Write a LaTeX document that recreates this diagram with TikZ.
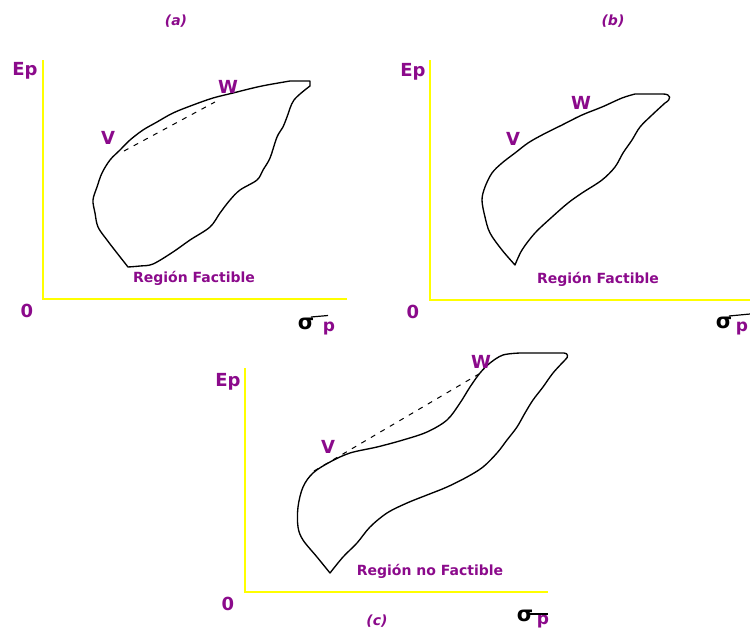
\documentclass[tikz,border=0pt]{standalone}
\usepackage{fontspec}
\setmainfont{DejaVu Sans}
\definecolor{vio}{RGB}{139,10,139}
\definecolor{axisyellow}{RGB}{255,255,0}
\tikzset{
  axisline/.style={draw=axisyellow, line width=2.4pt},
  frontier/.style={draw=black, line width=1.35pt, line join=round, line cap=round},
  chord/.style={draw=black, line width=1pt, dash pattern=on 5pt off 6pt},
  lab/.style={text=vio, inner sep=0pt},
  big/.style={lab, font=\bfseries\fontsize{18}{18}\selectfont},
  small/.style={lab, font=\bfseries\fontsize{14}{15}\selectfont},
  ttl/.style={lab, font=\bfseries\itshape\fontsize{14}{14}\selectfont},
  sig/.style={text=black, inner sep=0pt, font=\bfseries\fontsize{21}{21}\selectfont},
  pp/.style={lab, font=\bfseries\fontsize{17}{17}\selectfont},
  sigbar/.style={draw=black, line width=1.2pt}
}
\begin{document}
\begin{tikzpicture}[x=1pt,y=-1pt]
\useasboundingbox (0,0) rectangle (750,630);

%%%%%%%%%%%%%%%% panel (a)
\node[ttl] (ta) at (176,21) {(a)};
\coordinate (a-top) at (43,60);
\coordinate (a-o) at (43,299);
\coordinate (a-right) at (347,299);
\draw[axisline] (a-top) -- (a-o) -- (a-right);
\node[big] (a-ep) at (25,71) {Ep};
\node[big] (a-zero) at (27,311) {0};
\node[sig] (a-sig) at (306,324) {σ};
\node[pp] (a-p) at (329,329) {p};
\coordinate (a-b1) at (311,317);
\coordinate (a-b2) at (328,315.5);
\draw[sigbar] (a-b1) -- (a-b2);
\draw[frontier] plot[smooth, tension=0.55] coordinates {(290,81) (267,85) (253,88) (233,93) (213,98) (193,105) (173,113) (157,122) (143,130) (130,140) (120,150) (110,160) (102,173) (97,187) (93,200) (95,213) (98,227) (107,240) (117,253) (128,267)}
  -- plot[smooth, tension=0.55] coordinates {(128,267) (140,266) (153,264) (173,252) (190,240) (210,227) (220,213) (230,200) (240,190) (257,180) (263,170) (270,158) (277,137) (283,127) (287,117) (294,100) (310,86)}
  -- (310,81) -- (290,81);
\coordinate (a-v) at (124,151);
\coordinate (a-w) at (215,102);
\draw[chord] (a-v) -- (a-w);
\node[big] (a-vl) at (108,138) {V};
\node[big] (a-wl) at (228,87) {W};
\node[small] (a-reg) at (194,278) {Región Factible};

%%%%%%%%%%%%%%%% panel (b)
\node[ttl] (tb) at (613,21) {(b)};
\coordinate (b-top) at (430,60);
\coordinate (b-o) at (430,300);
\coordinate (b-right) at (752,300);
\draw[axisline] (b-top) -- (b-o) -- (b-right);
\node[big] (b-ep) at (413,72) {Ep};
\node[big] (b-zero) at (413,312) {0};
\node[sig] (b-sig) at (724,323) {σ};
\node[pp] (b-p) at (742,329) {p};
\coordinate (b-b1) at (729,316);
\coordinate (b-b2) at (750,314);
\draw[sigbar] (b-b1) -- (b-b2);
\draw[frontier] plot[smooth, tension=0.55] coordinates {(635,94) (622,98) (602,107) (582,115) (562,125) (542,135) (528,143) (515,153) (502,163) (492,173) (485,187) (482,200) (485,217) (490,233) (502,250) (515,265)}
  -- plot[smooth, tension=0.55] coordinates {(515,265) (522,250) (535,233) (552,217) (568,203) (582,193) (602,180) (615,167) (623,153) (632,140) (640,127) (652,115) (665,103)}
  .. controls (672,99) and (671,94) .. (663,94) -- (635,94);
\node[big] (b-vl) at (513,139) {V};
\node[big] (b-wl) at (581,103) {W};
\node[small] (b-reg) at (598,279) {Región Factible};

%%%%%%%%%%%%%%%% panel (c)
\coordinate (c-top) at (245,368);
\coordinate (c-o) at (245,592);
\coordinate (c-right) at (548,592);
\draw[axisline] (c-top) -- (c-o) -- (c-right);
\node[big] (c-ep) at (228,382) {Ep};
\node[big] (c-zero) at (228,604) {0};
\node[sig] (c-sig) at (525,616) {σ};
\node[pp] (c-p) at (543,621) {p};
\coordinate (c-b1) at (530,614);
\coordinate (c-b2) at (548,614);
\draw[sigbar] (c-b1) -- (c-b2);
\node[ttl] (tc) at (377,621) {(c)};
\draw[frontier] plot[smooth, tension=0.55] coordinates {(520,353) (503,355) (490,363) (480,373) (470,387) (460,403) (447,420) (427,432) (403,440) (377,447) (350,453) (330,462) (313,473) (303,487) (298,507) (298,527) (303,540) (317,557) (330,573)}
  -- plot[smooth, tension=0.55] coordinates {(330,573) (343,557) (357,543) (370,527) (387,513) (407,503) (427,495) (447,487) (467,477) (483,467) (497,453) (507,440) (517,427) (525,413) (533,400) (543,387) (553,373) (565,360)}
  .. controls (569,357) and (568,353) .. (564,353) -- (520,353);
\coordinate (c-v) at (314,471);
\coordinate (c-w) at (484,371);
\draw[chord] (c-v) -- (c-w);
\node[big] (c-vl) at (328,447) {V};
\node[big] (c-wl) at (481,362) {W};
\node[small] (c-reg) at (430,571) {Región no Factible};
\end{tikzpicture}
\end{document}
